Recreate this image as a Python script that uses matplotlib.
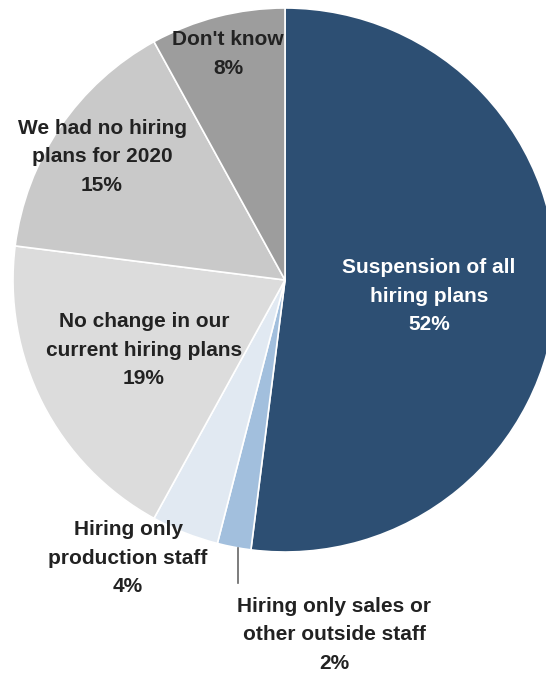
import matplotlib.pyplot as plt

labels = ["Suspension of all\nhiring plans", "Hiring only sales or\nother outside staff",
          "Hiring only\nproduction staff", "No change in our\ncurrent hiring plans",
          "We had no hiring\nplans for 2020", "Don't know"]
values = [52, 2, 4, 19, 15, 8]
colors = ["#2d4f73", "#a2bfdd", "#e1e9f2", "#dcdcdc", "#c9c9c9", "#9d9d9d"]

# label block centres in pixel space, y measured from the top
label_pos = [(429, 296), (334, 635), (128, 558), (144, 350), (102, 157), (228, 54)]
text_colors = ["white", "#222222", "#222222", "#222222", "#222222", "#222222"]

W, H = 546, 673
fig = plt.figure(figsize=(W / 100, H / 100), dpi=100)
ax = fig.add_axes([0, 0, 1, 1])

ax.pie(values, colors=colors, startangle=90, counterclock=False,
       center=(285, H - 280), radius=272,
       wedgeprops=dict(edgecolor="white", linewidth=1.2))

# pie() resets the view, so fix the pixel-space limits afterwards
ax.set_xlim(0, W)
ax.set_ylim(0, H)
ax.set_aspect("equal")
ax.axis("off")

for lab, v, (x, y), c in zip(labels, values, label_pos, text_colors):
    ax.text(x, H - y, f"{lab}\n{v}%", ha="center", va="center", color=c,
            fontsize=15, fontweight="bold", family="Liberation Sans",
            linespacing=1.62)

# leader line for the small 2% slice
ax.plot([238, 238], [H - 548, H - 583], color="#666666", linewidth=1.2)

fig.savefig("out.png", dpi=100)
